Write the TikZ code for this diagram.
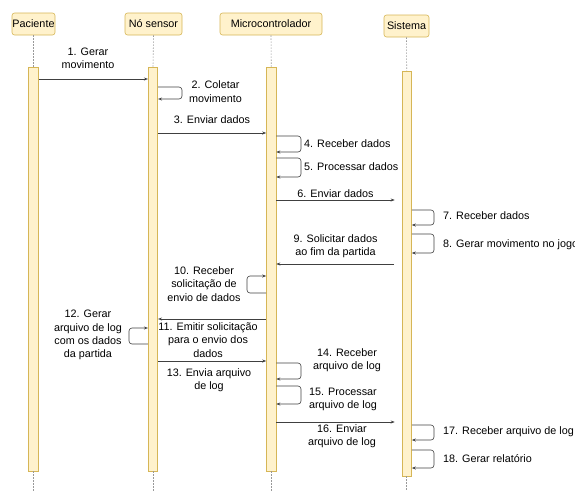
\documentclass[tikz,border=0pt]{standalone}
\usepackage{fontspec}
\setmainfont{Liberation Sans}
\usetikzlibrary{arrows.meta}
\definecolor{fillY}{HTML}{FFF2CC}
\definecolor{lineY}{HTML}{D6B656}
\definecolor{lifeG}{HTML}{999999}
\definecolor{msgC}{HTML}{404040}
\begin{document}
\begin{tikzpicture}[x=1pt,y=-1pt,
  every node/.style={font=\fontsize{10.8}{13.3}\selectfont},
  head/.style={draw=lineY,fill=fillY,rounded corners=2.5pt,line width=0.6pt,inner sep=0pt,minimum height=22pt},
  actbar/.style={draw=lineY,fill=fillY,line width=0.6pt,inner sep=0pt,minimum width=9.5pt},
  life/.style={draw=lifeG,dashed,dash pattern=on 1.5pt off 1.5pt,line width=0.6pt},
  msg/.style={draw=msgC,line width=0.6pt,-{Stealth[length=4pt,width=3pt]}},
  loopmsg/.style={msg,rounded corners=3pt},
  lbl/.style={align=center,inner sep=0pt}]
\useasboundingbox (0,0) rectangle (575,491);
% headers
\node[head,minimum width=43pt] (hP) at (33.5,24) {Paciente};
\node[head,minimum width=57pt] (hN) at (153.5,24) {Nó sensor};
\node[head,minimum width=102pt] (hM) at (271,24) {Microcontrolador};
\node[head,minimum width=45pt] (hS) at (406.5,26) {Sistema};
% activation bars
\node[actbar,minimum height=404pt] (bP) at (33.5,269) {};
\node[actbar,minimum height=404pt] (bN) at (153,269) {};
\node[actbar,minimum height=404pt] (bM) at (271.25,269) {};
\node[actbar,minimum height=405pt] (bS) at (406.75,273.5) {};
% lifelines
\coordinate (eP) at (33.5,491);
\coordinate (eN) at (153,491);
\coordinate (eM) at (271.25,491);
\coordinate (eS) at (406.75,491);
\draw[life] (hP.south) -- (bP.north);
\draw[life] (hN.south) -- (bN.north);
\draw[life] (hM.south) -- (bM.north);
\draw[life] (hS.south) -- (bS.north);
\draw[life] (bP.south) -- (eP);
\draw[life] (bN.south) -- (eN);
\draw[life] (bM.south) -- (eM);
\draw[life] (bS.south) -- (eS);
% messages
\draw[msg] (bP.east |- 0,79) -- (bN.west |- 0,79);
\node[lbl] (l1) at (88,58.5) {1. Gerar\\movimento};
\draw[loopmsg] (bN.east |- 0,87) -| (182,99) -- (bN.east |- 0,99);
\node[lbl] (l2) at (215.5,91.5) {2. Coletar\\movimento};
\draw[msg] (bN.east |- 0,133) -- (bM.west |- 0,133);
\node[lbl] (l3) at (212,120) {3. Enviar dados};
\draw[loopmsg] (bM.east |- 0,136) -| (301,152) -- (bM.east |- 0,152);
\node[lbl,anchor=west] (l4) at (304,144) {4. Receber dados};
\draw[loopmsg] (bM.east |- 0,158) -| (301,177) -- (bM.east |- 0,177);
\node[lbl,anchor=west] (l5) at (304,167) {5. Processar dados};
\draw[msg,shorten >=7pt] (bM.east |- 0,200) -- (bS.west |- 0,200);
\node[lbl] (l6) at (335.5,194) {6. Enviar dados};
\draw[loopmsg] (bS.east |- 0,210) -| (434,225) -- (bS.east |- 0,225);
\node[lbl,anchor=west] (l7) at (443,216) {7. Receber dados};
\draw[loopmsg] (bS.east |- 0,234) -| (434,253) -- (bS.east |- 0,253);
\node[lbl,anchor=west] (l8) at (443,245) {8. Gerar movimento no jogo};
\draw[msg,shorten <=7.5pt] (bS.west |- 0,264) -- (bM.east |- 0,264);
\node[lbl] (l9) at (335.5,246) {9. Solicitar dados\\ao fim da partida};
\draw[loopmsg] (bM.west |- 0,293) -| (247,276) -- (bM.west |- 0,276);
\node[lbl] (l10) at (204,284) {10. Receber\\solicitação de\\envio de dados};
\draw[msg] (bM.west |- 0,319) -- (bN.east |- 0,319);
\node[lbl] (l11) at (208,340) {11. Emitir solicitação\\para o envio dos\\dados};
\draw[loopmsg] (bN.west |- 0,344) -| (129,328) -- (bN.west |- 0,328);
\node[lbl] (l12) at (88,335) {12. Gerar\\arquivo de log\\com os dados\\da partida};
\draw[msg] (bN.east |- 0,361) -- (bM.west |- 0,361);
\node[lbl] (l13) at (209,380) {13. Envia arquivo\\de log};
\draw[loopmsg] (bM.east |- 0,363) -| (301,379) -- (bM.east |- 0,379);
\node[lbl] (l14) at (347,360.5) {14. Receber\\arquivo de log};
\draw[loopmsg] (bM.east |- 0,386) -| (301,404) -- (bM.east |- 0,404);
\node[lbl] (l15) at (343,399.5) {15. Processar\\arquivo de log};
\draw[msg,shorten >=7pt] (bM.east |- 0,422) -- (bS.west |- 0,422);
\node[lbl] (l16) at (342,436.5) {16. Enviar\\arquivo de log};
\draw[loopmsg] (bS.east |- 0,425) -| (434,440) -- (bS.east |- 0,440);
\node[lbl,anchor=west] (l17) at (443,432) {17. Receber arquivo de log};
\draw[loopmsg] (bS.east |- 0,450) -| (434,468) -- (bS.east |- 0,468);
\node[lbl,anchor=west] (l18) at (443,459) {18. Gerar relatório};
\end{tikzpicture}
\end{document}
